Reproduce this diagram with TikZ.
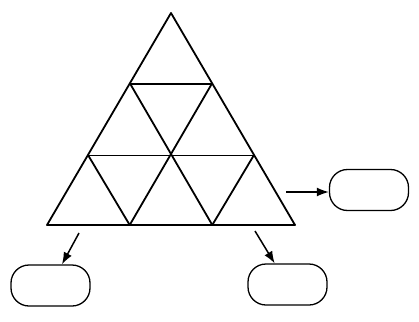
\documentclass[tikz,border=0pt]{standalone}
\usetikzlibrary{arrows.meta}
\begin{document}
\begin{tikzpicture}[x=1pt,y=-1pt]
\useasboundingbox (0,0) rectangle (419,321);
\tikzset{
  edge/.style={line width=1.8pt, line join=round},
  answer/.style={draw, line width=1.3pt, rounded corners=18pt, minimum width=79pt, minimum height=41pt},
  pointer/.style={-{Latex[length=12pt,width=9pt]}, line width=1.5pt}
}

% outer triangle
\coordinate (top) at (171,13);
\coordinate (bl) at (47,225);
\coordinate (br) at (295,225);
\draw[edge] (top) -- (bl) -- (br) -- cycle;

% rows
\coordinate (l1) at (130.3,84);
\coordinate (r1) at (211.7,84);
\coordinate (l2) at (88.3,155.5);
\coordinate (r2) at (253.7,155.5);
\coordinate (b1) at (129.7,225);
\coordinate (b2) at (212.3,225);
\draw[edge] (l1) -- (r1);
\draw[edge] (l2) -- (r2);

% slanted lines
\draw[edge] (l1) -- (b2);
\draw[edge] (r1) -- (b1);
\draw[edge] (l2) -- (b1);
\draw[edge] (r2) -- (b2);

% boxes
\node[answer] (boxright) at (369,190) {};
\node[answer] (boxleft) at (50.5,285.5) {};
\node[answer] (boxmid) at (287.5,284.5) {};

% arrows
\coordinate (fromright) at (286,192);
\coordinate (fromleft) at (79,233);
\coordinate (frommid) at (255,231);
\draw[pointer] (fromright) -- (boxright.west |- fromright);
\draw[pointer] (fromleft) -- (boxleft);
\draw[pointer] (frommid) -- (boxmid);

\end{tikzpicture}
\end{document}
